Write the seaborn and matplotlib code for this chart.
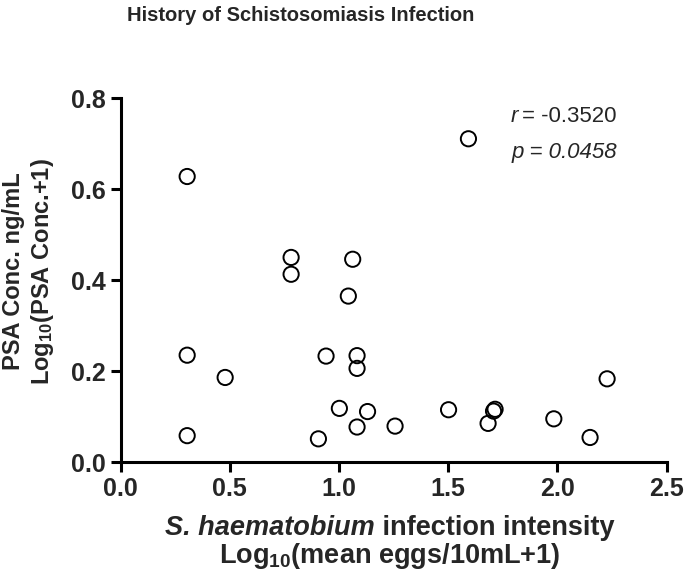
import matplotlib
matplotlib.use("Agg")
import matplotlib.pyplot as plt
import seaborn as sns
import pandas as pd

# data
intensity = [0.305, 0.781, 0.781, 1.063, 1.043, 0.305, 0.479, 0.941, 1.083, 1.083,
             1.002, 1.131, 1.083, 1.257, 0.305, 0.906, 1.593, 1.502, 1.715, 1.708,
             1.683, 1.984, 2.150, 2.228]
psa = [0.628, 0.450, 0.413, 0.446, 0.365, 0.235, 0.186, 0.233, 0.234, 0.206,
       0.118, 0.111, 0.077, 0.079, 0.058, 0.051, 0.711, 0.115, 0.116, 0.112,
       0.085, 0.095, 0.054, 0.183]
x_ticks = [0.0, 0.5, 1.0, 1.5, 2.0, 2.5]
y_ticks = [0.0, 0.2, 0.4, 0.6, 0.8]
r_text = "-0.3520"
p_text = "0.0458"

df = pd.DataFrame({"intensity": intensity, "psa": psa})

sns.set_theme(style="ticks")
plt.rcParams["font.family"] = ["Liberation Sans", "DejaVu Sans"]
plt.rcParams["mathtext.fontset"] = "custom"
plt.rcParams["mathtext.rm"] = "Liberation Sans:bold"
plt.rcParams["mathtext.it"] = "Liberation Sans:italic:bold"
plt.rcParams["mathtext.bf"] = "Liberation Sans:bold"

W, H = 685, 580
fig = plt.figure(figsize=(6.85, 5.8), dpi=100)
ax = fig.add_axes([0.176, 0.2034, 0.797, 0.6271])

sns.scatterplot(data=df, x="intensity", y="psa", ax=ax, s=120,
                facecolor="none", edgecolor="black", linewidth=1.4,
                marker="o", clip_on=False)

ax.set_xlim(0, 2.5)
ax.set_ylim(0, 0.8)
ax.set_xticks(x_ticks)
ax.set_yticks(y_ticks)
ax.set_xticklabels([f"{v:.1f}" for v in x_ticks])
ax.set_yticklabels([f"{v:.1f}" for v in y_ticks])
for lab in ax.get_xticklabels() + ax.get_yticklabels():
    lab.set_fontweight("bold")
    lab.set_fontsize(18)
ax.tick_params(axis="both", which="major", length=7, width=2.2, color="black",
               direction="out", pad=4)
for side in ["left", "bottom"]:
    ax.spines[side].set_linewidth(2.2)
    ax.spines[side].set_color("black")
sns.despine(ax=ax)

# x axis label: two lines, first line partly italic
ax.set_xlabel("")
xl_size = 19.5
center_x = 390 / W
y1 = 1 - 528 / H
y2 = 1 - 556 / H
ta = fig.text(0, y1, "S. haematobium", fontsize=xl_size, fontweight="bold",
              style="italic", ha="left", va="center")
tb = fig.text(0, y1, "\u00a0infection intensity", fontsize=xl_size, fontweight="bold",
              ha="left", va="center")
fig.text(center_x, y2, r"Log$_{10}$(mean eggs/10mL+1)", fontsize=xl_size,
         fontweight="bold", ha="center", va="center")
fig.canvas.draw()
r = fig.canvas.get_renderer()
wa = ta.get_window_extent(r).width
wb = tb.get_window_extent(r).width
start = center_x * W - (wa + wb) / 2
ta.set_x(start / W)
tb.set_x((start + wa) / W)

ax.set_ylabel("PSA Conc. ng/mL" + "\n" + r"Log$_{10}$(PSA Conc.+1)",
              fontsize=17, fontweight="bold", linespacing=1.2)
ax.yaxis.set_label_coords(-0.118, 0.525, transform=ax.transAxes)

fig.text(0.439, 0.974, "History of Schistosomiasis Infection", ha="center", va="center",
         fontsize=14.5, fontweight="bold",
         family=["Liberation Sans Narrow", "Liberation Sans", "DejaVu Sans"])

narrow = ["Liberation Sans Narrow", "Liberation Sans", "DejaVu Sans"]
t1 = ax.text(0.909, 0.9505, "= " + r_text, transform=ax.transAxes, ha="right", va="center",
             fontsize=16, family=narrow)
ax.annotate("r", xy=(0, 0.5), xycoords=t1, xytext=(-3, 0), textcoords="offset points",
            ha="right", va="center", fontsize=16, style="italic", family=narrow)
ax.text(0.909, 0.85, "p = " + p_text, transform=ax.transAxes, ha="right", va="center",
        fontsize=16, style="italic", family=narrow)

fig.savefig("out.png", dpi=100)
